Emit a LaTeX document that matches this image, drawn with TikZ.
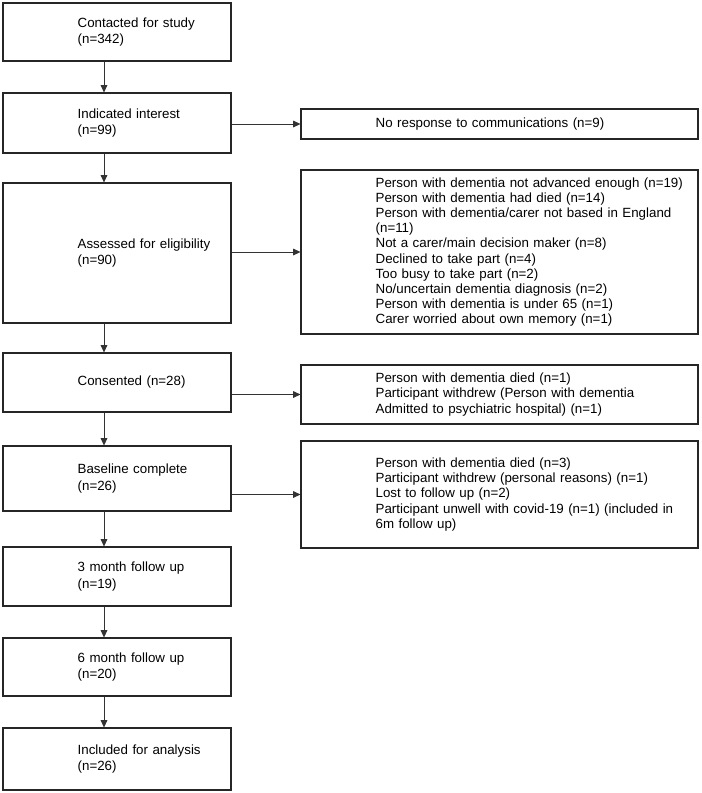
\documentclass[tikz,border=0pt]{standalone}
\usepackage{fontspec}
\setmainfont{Liberation Sans}
\usetikzlibrary{arrows.meta, positioning}

\tikzset{
  box/.style={draw=black!85, line width=0.8pt, inner xsep=0pt, inner ysep=2pt,
    align=left, font=\fontsize{10}{11.4}\selectfont,
    execute at begin node={\leftskip=56pt}},
  stage/.style={box, text width=171pt, font=\fontsize{10}{12.6}\selectfont},
  excl/.style={box, text width=297.75pt},
  flow/.style={->, draw=black!80, line width=0.5pt},
}

\begin{document}
\begin{tikzpicture}[x=0.75pt, y=-0.75pt, >={Triangle[length=5.5pt, width=5pt]}]
  \useasboundingbox (0,0) rectangle (701,793);

  % main stages
  \node[stage, minimum height=43.5pt]  (contact)  at (117,32)    {Contacted for study\\(n=342)};
  \node[stage, minimum height=45pt]    (interest) at (117,123)   {Indicated interest\\(n=99)};
  \node[stage, minimum height=105pt]   (assess)   at (117,253)   {Assessed for eligibility\\(n=90)};
  \node[stage, minimum height=44.25pt] (consent)  at (117,382.5) {Consented (n=28)};
  \node[stage, minimum height=48.75pt] (base)     at (117,478.5) {Baseline complete\\(n=26)};
  \node[stage, minimum height=44.25pt] (three)    at (117,576.5) {3 month follow up\\(n=19)};
  \node[stage, minimum height=43.5pt]  (six)      at (117,667)   {6 month follow up\\(n=20)};
  \node[stage, minimum height=46.5pt]  (analysis) at (117,759)   {Included for analysis\\(n=26)};

  % exclusions
  \node[excl, minimum height=22.5pt]  (noresp)  at (499.5,124)   {No response to communications (n=9)};
  \node[excl, minimum height=123pt]   (inelig)  at (499.5,252)   {Person with dementia not advanced enough (n=19)\\
    Person with dementia had died (n=14)\\
    Person with dementia/carer not based in England\\
    (n=11)\\
    Not a carer/main decision maker (n=8)\\
    Declined to take part (n=4)\\
    Too busy to take part (n=2)\\
    No/uncertain dementia diagnosis (n=2)\\
    Person with dementia is under 65 (n=1)\\
    Carer worried about own memory (n=1)};
  \node[excl, minimum height=44.25pt] (dropone) at (499.5,394.5) {Person with dementia died (n=1)\\
    Participant withdrew (Person with dementia\\
    Admitted to psychiatric hospital) (n=1)};
  \node[excl, minimum height=80.25pt] (droptwo) at (499.5,494.5) {Person with dementia died (n=3)\\
    Participant withdrew (personal reasons) (n=1)\\
    Lost to follow up (n=2)\\
    Participant unwell with covid-19 (n=1) (included in\\
    6m follow up)};

  \coordinate (spine) at (104,0);
  \foreach \a/\b in {contact/interest, interest/assess, assess/consent, consent/base,
                     base/three, three/six, six/analysis} {
    \draw[flow] (\a.south -| spine) -- (\b.north -| spine);
  }

  \foreach \a/\b in {interest/noresp, assess/inelig, consent/dropone, base/droptwo} {
    \draw[flow] (\b.west -| \a.east) -- (\b.west);
  }
\end{tikzpicture}
\end{document}
